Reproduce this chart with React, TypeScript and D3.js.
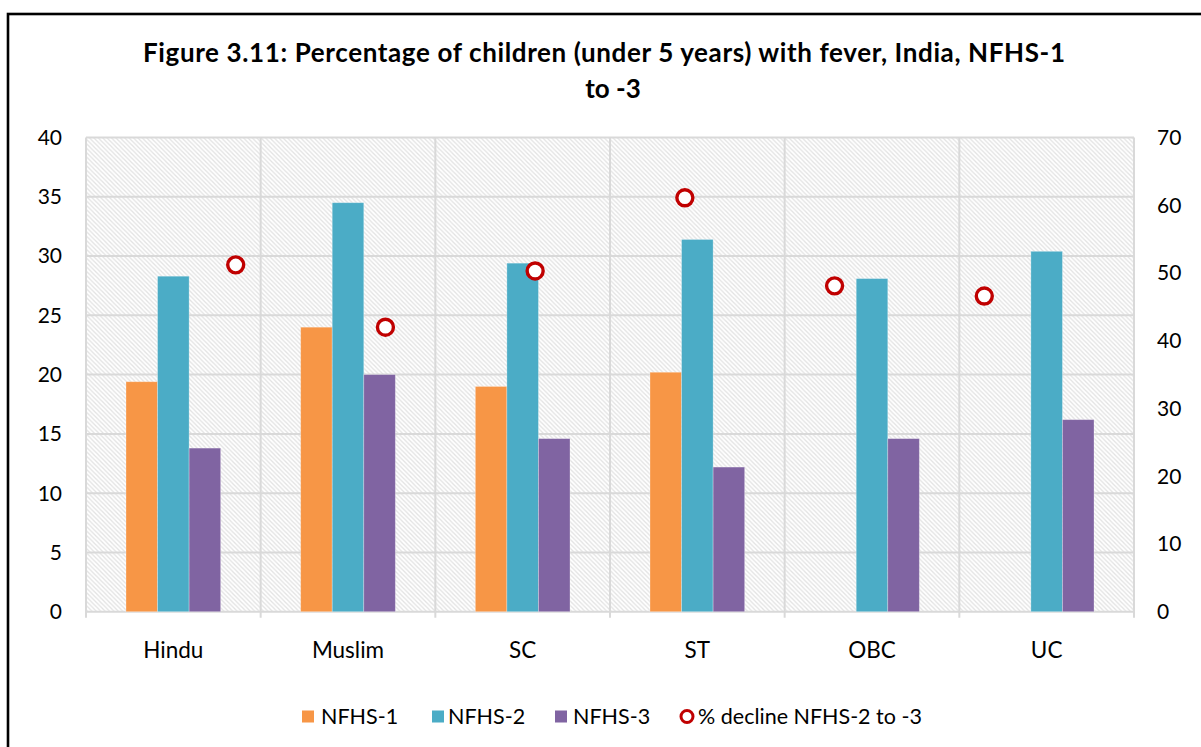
import React from "react";
import * as d3 from "d3";

const categories = ["Hindu", "Muslim", "SC", "ST", "OBC", "UC"];
const nfhs1: (number | null)[] = [19.4, 24.0, 19.0, 20.2, null, null];
const nfhs2: number[] = [28.3, 34.5, 29.4, 31.4, 28.1, 30.4];
const nfhs3: number[] = [13.8, 20.0, 14.6, 12.2, 14.6, 16.2];
const decline: number[] = [51.2, 42.0, 50.3, 61.1, 48.1, 46.6];
const leftTicks = [0, 5, 10, 15, 20, 25, 30, 35, 40];
const rightTicks = [0, 10, 20, 30, 40, 50, 60, 70];
const seriesNames = ["NFHS-1", "NFHS-2", "NFHS-3"];
const seriesColors = ["#F79646", "#4BACC6", "#8064A2"];
const declineLabel = "% decline NFHS-2 to -3";
const declineColor = "#C00000";
const titleLine1 = "Figure 3.11: Percentage of children (under 5 years) with fever, India, NFHS-1";
const titleLine2 = "to -3";

const W = 1201, H = 747;
const L = 86, R = 1134, T = 137.5, B = 611.7;
const FONT = "Lato, 'Open Sans', sans-serif";

export default function App() {
  const x = d3.scaleBand<string>().domain(categories).range([L, R]).paddingInner(0).paddingOuter(0);
  const bw = x.bandwidth();
  const inner = d3.scaleBand<string>().domain(seriesNames).range([-bw * 0.271, bw * 0.271]).padding(0);
  const yL = d3.scaleLinear().domain([0, 40]).range([B, T]);
  const yR = d3.scaleLinear().domain([0, 70]).range([B, T]);
  const xs = d3.scaleLinear().domain([0, categories.length + 1]).range([L, R]);
  const series = [nfhs1, nfhs2, nfhs3];

  const boundaries = d3.range(categories.length + 1).map((i) => L + i * bw);

  const legendItems = [
    { sq: 302, tx: 321, i: 0 },
    { sq: 432, tx: 448, i: 1 },
    { sq: 555, tx: 573, i: 2 },
  ];

  return (
    <svg width={W} height={H} style={{ position: "absolute", left: 0, top: 0, background: "#fff" }} fontFamily={FONT}>
      <defs>
        <pattern id="hatch" patternUnits="userSpaceOnUse" width={4.4} height={4.4}>
          <rect width={4.4} height={4.4} fill="#ffffff" />
          <path d="M-1,-1 L5.4,5.4 M3.4,-1 L5.4,1 M-1,3.4 L1,5.4" stroke="#E2E2E2" strokeWidth={1.25} />
        </pattern>
      </defs>
      <rect x={0} y={0} width={W} height={H} fill="#fff" />
      {/* outer frame */}
      <rect x={8} y={14} width={1230} height={780} fill="none" stroke="#000" strokeWidth={2.6} />

      {/* title */}
      <text x={604} y={62} textAnchor="middle" fontSize={26} fontWeight={700} fill="#000" textLength={922} lengthAdjust="spacing">{titleLine1}</text>
      <text x={613} y={98} textAnchor="middle" fontSize={26} fontWeight={700} fill="#000">{titleLine2}</text>

      {/* plot background */}
      <rect x={L} y={T} width={R - L} height={B - T} fill="url(#hatch)" />

      {/* horizontal gridlines */}
      {leftTicks.map((t) => (
        <line key={"h" + t} x1={L} x2={R} y1={yL(t)} y2={yL(t)} stroke="#D9D9D9" strokeWidth={2} />
      ))}
      {/* vertical gridlines / category ticks */}
      {boundaries.map((bx, i) => (
        <line key={"v" + i} x1={bx} x2={bx} y1={T} y2={B + 6} stroke="#D9D9D9" strokeWidth={2} />
      ))}

      {/* bars */}
      {categories.map((c, ci) =>
        series.map((s, si) => {
          const v = s[ci];
          if (v == null) return null;
          const bx = (x(c) as number) + bw / 2 + (inner(seriesNames[si]) as number);
          return (
            <rect key={c + si} x={bx} y={yL(v)} width={inner.bandwidth()} height={yL(0) - yL(v)}
              fill={seriesColors[si]} stroke="rgba(255,255,255,0.35)" strokeWidth={0.8} />
          );
        })
      )}

      {/* decline markers */}
      {decline.map((d, i) => (
        <circle key={"d" + i} cx={xs(i + 1)} cy={yR(d)} r={8} fill="#fff" stroke={declineColor} strokeWidth={3.4} />
      ))}

      {/* left axis labels */}
      {leftTicks.map((t) => (
        <text key={"lt" + t} x={62} y={yL(t)} dy="0.35em" textAnchor="end" fontSize={21} fill="#000">{t}</text>
      ))}
      {/* right axis labels */}
      {rightTicks.map((t) => (
        <text key={"rt" + t} x={1157} y={yR(t)} dy="0.35em" textAnchor="start" fontSize={21} fill="#000">{t}</text>
      ))}
      {/* category labels */}
      {categories.map((c) => (
        <text key={"c" + c} x={(x(c) as number) + bw / 2} y={658} textAnchor="middle" fontSize={22.5} fill="#000">{c}</text>
      ))}

      {/* legend */}
      {legendItems.map((it) => (
        <g key={"lg" + it.i}>
          <rect x={it.sq} y={710.5} width={12} height={12} fill={seriesColors[it.i]} />
          <text x={it.tx} y={724} fontSize={21.5} fill="#000">{seriesNames[it.i]}</text>
        </g>
      ))}
      <circle cx={687} cy={716.5} r={6} fill="#fff" stroke={declineColor} strokeWidth={3} />
      <text x={698} y={724} fontSize={21.5} fill="#000">{declineLabel}</text>
    </svg>
  );
}
